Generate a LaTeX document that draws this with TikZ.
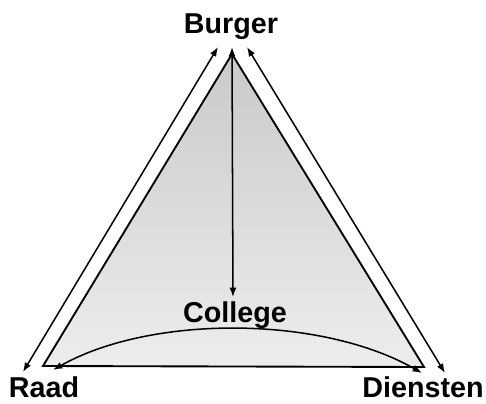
\documentclass[tikz,border=0pt]{standalone}
\usepackage{fontspec}
\setmainfont{Liberation Sans}
\usetikzlibrary{arrows.meta}

\begin{document}
\begin{tikzpicture}[x=0.03cm,y=-0.03cm,
    lbl/.style={font=\bfseries\fontsize{24.5}{28}\selectfont,inner sep=0pt,anchor=base},
    rel/.style={line width=1.3pt,{Latex[length=8pt,width=6pt]}-{Latex[length=8pt,width=6pt]}}]
  \useasboundingbox (0,0) rectangle (486,404);
  % corners of the triangle
  \coordinate (top) at (232,54);
  \coordinate (left) at (43,366);
  \coordinate (right) at (424,367);
  % stippled area
  \shade[top color=gray!42,bottom color=gray!14,draw=black,line width=1.6pt,line join=miter]
    (top)--(left)--(right)--cycle;
  % labels
  \node[lbl] (burger) at (231,34) {Burger};
  \node[lbl] (raad) at (44,397) {Raad};
  \node[lbl] (diensten) at (423,397) {Diensten};
  \node[lbl] (college) at (235,322) {College};
  % arrow ends
  \coordinate (bl) at (218,47);
  \coordinate (br) at (247,47);
  \coordinate (bc) at (232,47);
  \coordinate (rl) at (23,372);
  \coordinate (dr) at (445,373);
  \coordinate (cc) at (233,297);
  \coordinate (cl) at (53,370);
  \coordinate (cr) at (422,373);
  % relations
  \draw[rel] (bl)--(rl);
  \draw[rel] (br)--(dr);
  \draw[rel] (bc)--(cc);
  \draw[rel] (cl) .. controls (150,315) and (320,315) .. (cr);
\end{tikzpicture}
\end{document}
